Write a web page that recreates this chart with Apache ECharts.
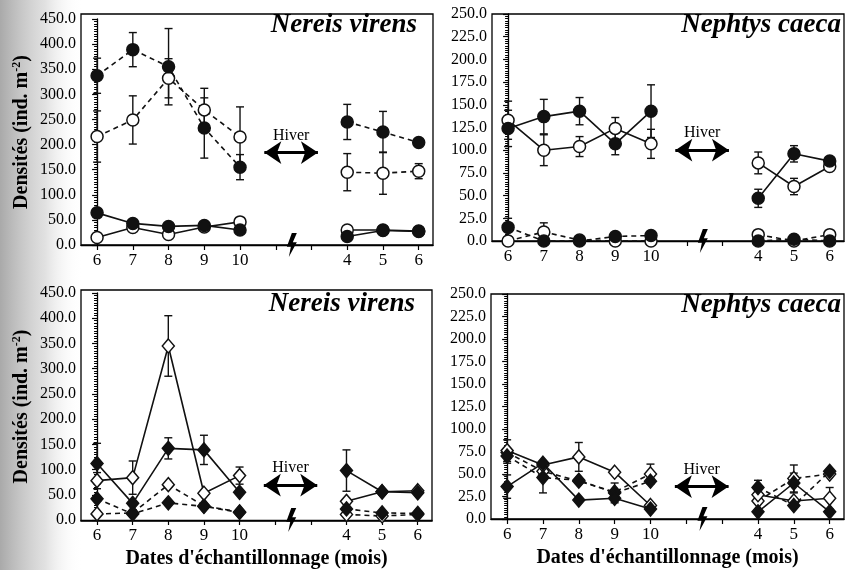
<!DOCTYPE html>
<html><head><meta charset="utf-8">
<script src="https://cdn.jsdelivr.net/npm/echarts@6/dist/echarts.min.js"></script>
<style>html,body{margin:0;padding:0;background:#fff}#c{width:845px;height:570px}</style>
</head><body><div id="c"></div>
<script>
// ---- categories (sampling months; two blank slots = winter gap) ----
const months = ['6','7','8','9','10','','','4','5','6'];
const labelIdx = [0,1,2,3,4,7,8,9];
const tickIdx = [0,1,2,3,4,5,6,7,8,9];

// ---- Nereis virens, top panel (circles) ----
const nvTopFilledDashed = [337, 389, 355, 233, 155, null, null, 245, 225, 204];
const nvTopFilledDashedErr = [35, 34, 76, 60, 25, null, null, 35, 41, 0];
const nvTopOpenDashed = [216, 249, 332, 269, 215, null, null, 145, 143, 147];
const nvTopOpenDashedErr = [51, 48, 39, 43, 60, null, null, 37, 42, 15];
const nvTopFilledSolid = [64, 43, 37, 39, 30, null, null, 17, 29, 27];
const nvTopOpenSolid = [15, 35, 21, 36, 46, null, null, 30, 30, 28];

// ---- Nephtys caeca, top panel (circles) ----
const ncTopFilledSolid = [124, 137, 143, 107, 143, null, null, 47, 96, 88];
const ncTopFilledSolidErr = [20, 19, 15, 12, 29, null, null, 10, 9, 0];
const ncTopOpenSolid = [133, 100, 104, 124, 107, null, null, 86, 60, 82];
const ncTopOpenSolidErr = [21, 17, 11, 12, 16, null, null, 12, 9, 0];
const ncTopFilledDashed = [15, 0, 0, 5, 6, null, null, 0, 2, 0];
const ncTopFilledDashedErr = [10, 0, 0, 0, 0, null, null, 0, 0, 0];
const ncTopOpenDashed = [0, 10, 1, 0, 0, null, null, 7, 0, 7];
const ncTopOpenDashedErr = [0, 10, 0, 0, 0, null, null, 0, 0, 0];

// ---- Nereis virens, bottom panel (diamonds) ----
const nvBotOpenSolid = [78, 84, 345, 53, 88, null, null, 37, 56, 58];
const nvBotOpenSolidErr = [16, 33, 60, 0, 17, null, null, 0, 0, 0];
const nvBotFilledSolid = [112, 33, 142, 139, 55, null, null, 98, 56, 54];
const nvBotFilledSolidErr = [40, 0, 21, 29, 0, null, null, 41, 0, 0];
const nvBotOpenDashed = [12, 14, 70, 28, 16, null, null, 11, 8, 11];
const nvBotFilledDashed = [42, 12, 34, 27, 15, null, null, 22, 14, 13];

// ---- Nephtys caeca, bottom panel (diamonds) ----
const ncBotOpenSolid = [76, 60, 69, 52, 15, null, null, 27, 20, 23];
const ncBotOpenSolidErr = [12, 0, 16, 0, 0, null, null, 0, 0, 12];
const ncBotFilledSolid = [36, 62, 21, 23, 11, null, null, 8, 40, 8];
const ncBotFilledSolidErr = [13, 0, 0, 0, 0, null, null, 0, 11, 0];
const ncBotOpenDashed = [74, 53, 42, 30, 50, null, null, 20, 45, 50];
const ncBotOpenDashedErr = [0, 0, 0, 0, 11, null, null, 0, 15, 0];
const ncBotFilledDashed = [70, 46, 43, 29, 42, null, null, 35, 15, 53];
const ncBotFilledDashedErr = [8, 17, 0, 11, 0, null, null, 8, 0, 0];

// ---- annotation values (arrow height per panel, in data units) ----
const hiverY = [184, 100, 69, 36];

const FONT = '"Liberation Serif","Times New Roman",serif';
const INK = '#111';

const axisGrids = [
  {left:81, top:19, width:352, height:226},
  {left:492, top:14, width:352, height:227},
  {left:81, top:293, width:351, height:228},
  {left:491, top:294, width:353, height:225}
];
const frameGrids = [
  {left:81, top:14, width:352, height:231},
  {left:492, top:14, width:352, height:227},
  {left:81, top:290, width:351, height:231},
  {left:491, top:294, width:353, height:225}
];
const yMax = [450, 250, 450, 250];
const yInt = [50, 25, 50, 25];

const grid = axisGrids.map(g => Object.assign({show:false}, g))
  .concat(frameGrids.map(g => Object.assign({show:true, borderColor:'#000', borderWidth:1.3, backgroundColor:'transparent'}, g)));

const xAxis = [0,1,2,3].map(i => ({
  type:'value', gridIndex:i, min:-0.45, max:9.4,
  axisLine:{show:true, onZero:false, lineStyle:{color:'#000', width:1.3}},
  splitLine:{show:false},
  axisTick:{show:true, inside:false, length:5, customValues:tickIdx, lineStyle:{color:'#000', width:1.2}},
  axisLabel:{show:true, customValues:labelIdx, margin:7, color:'#000', fontFamily:FONT, fontSize:17,
    formatter: v => months[Math.round(v)]},
  name: i >= 2 ? "Dates d'échantillonnage (mois)" : '',
  nameLocation:'middle', nameGap:29,
  nameTextStyle:{fontFamily:FONT, fontWeight:'bold', fontSize:20, color:'#000'}
}));

const yAxis = [0,1,2,3].map(i => ({
  type:'value', gridIndex:i, min:0, max:yMax[i], interval:yInt[i],
  axisLine:{show:true, lineStyle:{color:'#000', width:1.3}},
  splitLine:{show:false},
  axisTick:{show:true, inside:false, length:5, lineStyle:{color:'#000', width:1.2}},
  minorTick:{show:true, splitNumber:10, length:3, lineStyle:{color:'#000', width:1}},
  axisLabel:{margin:5, color:'#000', fontFamily:FONT, fontSize:16, formatter: v => v.toFixed(1)},
  name: (i % 2 === 0) ? 'Densités (ind. m{sup|-2})' : '',
  nameLocation:'middle', nameRotate:90, nameGap:48,
  nameTextStyle:{fontFamily:FONT, fontWeight:'bold', fontSize:20, color:'#000', lineHeight:22,
    rich:{sup:{fontFamily:FONT, fontWeight:'bold', fontSize:12, color:'#000', verticalAlign:'top', lineHeight:22}}}
}));

function toXY(vals){ return vals.map((v,i) => [i, v == null ? '-' : v]); }

function lineS(gi, vals, filled, dashed, shape){
  const diamond = shape === 'diamond';
  return {
    type:'line', xAxisIndex:gi, yAxisIndex:gi, data:toXY(vals), connectNulls:false,
    symbol: diamond ? 'diamond' : 'circle',
    symbolSize: diamond ? [12, 14] : 12,
    itemStyle:{color: filled ? INK : '#fff', borderColor:INK, borderWidth:1.5, opacity:1},
    lineStyle:{color:INK, width:1.6, type: dashed ? [5,4] : 'solid'},
    z: filled ? 4 : 3, animation:false, silent:true
  };
}

function errS(gi, vals, errs){
  const data = [];
  vals.forEach((v,i) => { if (v != null && errs[i]) data.push([i, v, errs[i]]); });
  return {
    type:'custom', xAxisIndex:gi, yAxisIndex:gi, data, encode:{x:0, y:1}, z:2,
    animation:false, silent:true,
    renderItem:(params, api) => {
      const x = api.value(0), v = api.value(1), e = api.value(2);
      const t = api.coord([x, v + e]);
      const b = api.coord([x, Math.max(0, v - e)]);
      const w = 4, st = {stroke:INK, lineWidth:1.4};
      return {type:'group', children:[
        {type:'line', shape:{x1:t[0], y1:t[1], x2:b[0], y2:b[1]}, style:st},
        {type:'line', shape:{x1:t[0]-w, y1:t[1], x2:t[0]+w, y2:t[1]}, style:st},
        {type:'line', shape:{x1:b[0]-w, y1:b[1], x2:b[0]+w, y2:b[1]}, style:st}
      ]};
    }
  };
}

function annot(gi){
  return {
    type:'line', xAxisIndex:gi, yAxisIndex:gi, data:[], animation:false, silent:true,
    markLine:{
      silent:true, animation:false, symbol:['arrow','arrow'], symbolSize:[17,17],
      lineStyle:{color:'#000', width:3, type:'solid'},
      label:{show:true, formatter:'Hiver', position:'insideMiddleTop', distance:9,
        color:'#000', fontFamily:FONT, fontSize:16},
      data:[[{coord:[4.68, hiverY[gi]]},{coord:[6.18, hiverY[gi]]}]]
    },
    markPoint:{
      silent:true, animation:false,
      symbol:'path://M5,0 L10,0 L6,10 L10,10 L2,26 L4,15 L0,15 Z', symbolSize:[10,24],
      itemStyle:{color:'#000'}, label:{show:false},
      data:[{coord:[5.45, 0]}]
    }
  };
}

const series = [
  // top-left
  errS(0, nvTopFilledDashed, nvTopFilledDashedErr),
  errS(0, nvTopOpenDashed, nvTopOpenDashedErr),
  lineS(0, nvTopFilledDashed, true, true, 'circle'),
  lineS(0, nvTopOpenDashed, false, true, 'circle'),
  lineS(0, nvTopFilledSolid, true, false, 'circle'),
  lineS(0, nvTopOpenSolid, false, false, 'circle'),
  annot(0),
  // top-right
  errS(1, ncTopFilledSolid, ncTopFilledSolidErr),
  errS(1, ncTopOpenSolid, ncTopOpenSolidErr),
  errS(1, ncTopFilledDashed, ncTopFilledDashedErr),
  errS(1, ncTopOpenDashed, ncTopOpenDashedErr),
  lineS(1, ncTopOpenDashed, false, true, 'circle'),
  lineS(1, ncTopFilledDashed, true, true, 'circle'),
  lineS(1, ncTopOpenSolid, false, false, 'circle'),
  lineS(1, ncTopFilledSolid, true, false, 'circle'),
  annot(1),
  // bottom-left
  errS(2, nvBotOpenSolid, nvBotOpenSolidErr),
  errS(2, nvBotFilledSolid, nvBotFilledSolidErr),
  lineS(2, nvBotOpenDashed, false, true, 'diamond'),
  lineS(2, nvBotFilledDashed, true, true, 'diamond'),
  lineS(2, nvBotOpenSolid, false, false, 'diamond'),
  lineS(2, nvBotFilledSolid, true, false, 'diamond'),
  annot(2),
  // bottom-right
  errS(3, ncBotOpenSolid, ncBotOpenSolidErr),
  errS(3, ncBotFilledSolid, ncBotFilledSolidErr),
  errS(3, ncBotOpenDashed, ncBotOpenDashedErr),
  errS(3, ncBotFilledDashed, ncBotFilledDashedErr),
  lineS(3, ncBotOpenDashed, false, true, 'diamond'),
  lineS(3, ncBotFilledDashed, true, true, 'diamond'),
  lineS(3, ncBotOpenSolid, false, false, 'diamond'),
  lineS(3, ncBotFilledSolid, true, false, 'diamond'),
  annot(3)
];

const titleStyle = {fontFamily:FONT, fontStyle:'italic', fontWeight:'bold', fontSize:27, color:'#000'};
const title = [
  {text:'Nereis virens', right:428, top:12, padding:0, textStyle:titleStyle},
  {text:'Nephtys caeca', right:4, top:12, padding:0, textStyle:titleStyle},
  {text:'Nereis virens', right:430, top:291, padding:0, textStyle:titleStyle},
  {text:'Nephtys caeca', right:4, top:292, padding:0, textStyle:titleStyle}
];

const chart = echarts.init(document.getElementById('c'));
chart.setOption({
  backgroundColor:'#fff',
  animation:false,
  title, grid, xAxis, yAxis, series,
  graphic:[{
    type:'rect', z:-10, silent:true,
    shape:{x:0, y:0, width:82, height:570},
    style:{fill:new echarts.graphic.LinearGradient(0,0,1,0,[
      {offset:0, color:'rgba(160,160,160,0.9)'},
      {offset:0.55, color:'rgba(205,205,205,0.6)'},
      {offset:1, color:'rgba(255,255,255,0)'}
    ])}
  }]
});
</script></body></html>
